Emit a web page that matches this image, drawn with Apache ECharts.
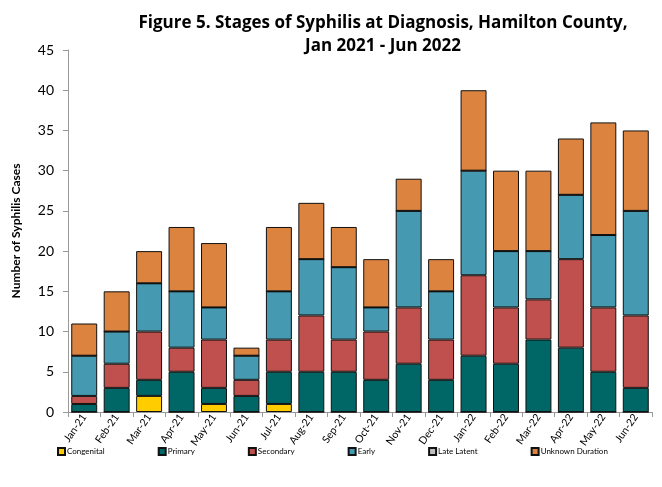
<!DOCTYPE html>
<html>
<head>
<meta charset="utf-8">
<script src="https://cdn.jsdelivr.net/npm/echarts@6/dist/echarts.min.js"></script>
<style>
  html, body { margin: 0; padding: 0; background: #fff; }
  #chart { width: 662px; height: 487px; }
</style>
</head>
<body>
<div id="chart"></div>
<script>
var months = ["Jan-21", "Feb-21", "Mar-21", "Apr-21", "May-21", "Jun-21", "Jul-21", "Aug-21", "Sep-21",
  "Oct-21", "Nov-21", "Dec-21", "Jan-22", "Feb-22", "Mar-22", "Apr-22", "May-22", "Jun-22"];
var congenital = [0, 0, 2, 0, 1, 0, 1, 0, 0, 0, 0, 0, 0, 0, 0, 0, 0, 0];
var primary    = [1, 3, 2, 5, 2, 2, 4, 5, 5, 4, 6, 4, 7, 6, 9, 8, 5, 3];
var secondary  = [1, 3, 6, 3, 6, 2, 4, 7, 4, 6, 7, 5, 10, 7, 5, 11, 8, 9];
var early      = [5, 4, 6, 7, 4, 3, 6, 7, 9, 3, 12, 6, 13, 7, 6, 8, 9, 13];
var lateLatent = [0, 0, 0, 0, 0, 0, 0, 0, 0, 0, 0, 0, 0, 0, 0, 0, 0, 0];
var unknown    = [4, 5, 4, 8, 8, 1, 8, 7, 5, 6, 4, 4, 10, 10, 10, 7, 14, 10];

var yTicks = { min: 0, max: 45, interval: 5 };

function stack(name, data, color) {
  return {
    name: name,
    type: "bar",
    stack: "all",
    data: data,
    barCategoryGap: "20%",
    itemStyle: { color: color, borderColor: "#111", borderWidth: 1 }
  };
}

var myChart = echarts.init(document.getElementById("chart"));
myChart.setOption({
  animation: false,
  textStyle: { fontFamily: "Lato" },
  title: {
    text: "Figure 5. Stages of Syphilis at Diagnosis, Hamilton County,\nJan 2021 - Jun 2022",
    left: 378,
    top: 7,
    textAlign: "center",
    textStyle: { fontSize: 17, fontWeight: "bold", color: "#000", lineHeight: 23, fontFamily: "Open Sans" }
  },
  legend: {
    top: 442,
    left: 52,
    itemWidth: 7,
    itemHeight: 7,
    itemGap: 53,
    icon: "rect",
    textStyle: { fontSize: 8, color: "#000", padding: [0, 0, 0, -3] },
    data: ["Congenital", "Primary", "Secondary", "Early", "Late Latent", "Unknown Duration"]
  },
  grid: { left: 68, right: 10, top: 50, bottom: 75 },
  xAxis: {
    type: "category",
    data: months,
    axisLine: { lineStyle: { color: "#999" } },
    axisTick: { show: true, length: 5, lineStyle: { color: "#999" } },
    axisLabel: { rotate: 55, fontSize: 10.5, color: "#000", margin: 3 }
  },
  yAxis: {
    type: "value",
    min: yTicks.min,
    max: yTicks.max,
    interval: yTicks.interval,
    name: "Number of Syphilis Cases",
    nameLocation: "middle",
    nameGap: 46,
    nameTextStyle: { fontSize: 12, fontWeight: "bold", color: "#000" },
    axisLine: { show: true, lineStyle: { color: "#999" } },
    axisTick: { show: true, length: 5, lineStyle: { color: "#999" } },
    axisLabel: { fontSize: 14, color: "#000", margin: 14 },
    splitLine: { show: false }
  },
  series: [
    stack("Congenital", congenital, "#FFCC00"),
    stack("Primary", primary, "#006666"),
    stack("Secondary", secondary, "#C0504D"),
    stack("Early", early, "#4599B0"),
    stack("Late Latent", lateLatent, "#BFBFBF"),
    stack("Unknown Duration", unknown, "#DC843F")
  ]
});
</script>
</body>
</html>
